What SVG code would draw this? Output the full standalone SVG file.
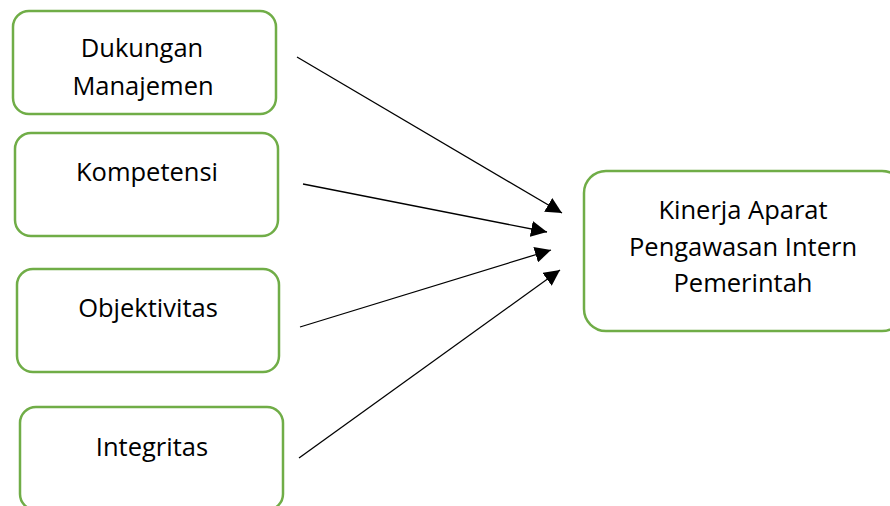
<svg xmlns="http://www.w3.org/2000/svg" width="890" height="506" viewBox="0 0 890 506">
<defs>
<style>
.box{fill:#fff;stroke:#70ad47;stroke-width:2.5}
.t{font-family:"Open Sans","Noto Sans","Liberation Sans",sans-serif;font-size:25.5px;fill:#000;text-anchor:middle}
.c{stroke:#000;stroke-width:1.3;fill:none}
</style>
<marker id="ah" viewBox="0 0 10 10" refX="10" refY="5" markerWidth="16" markerHeight="16" markerUnits="userSpaceOnUse" orient="auto">
<path d="M0,0 L10,5 L0,10 z" fill="#000"/>
</marker>
</defs>
<rect width="890" height="506" fill="#fff"/>
<g id="dukungan">
<rect class="box" x="13" y="11" width="263" height="103" rx="16"/>
<text class="t" x="142" y="57">Dukungan</text>
<text class="t" x="143" y="95">Manajemen</text>
</g>
<g id="kompetensi">
<rect class="box" x="15" y="133" width="263" height="103" rx="16"/>
<text class="t" x="147" y="181">Kompetensi</text>
</g>
<g id="objektivitas">
<rect class="box" x="17" y="269" width="262" height="103" rx="16"/>
<text class="t" x="148" y="317">Objektivitas</text>
</g>
<g id="integritas">
<rect class="box" x="20" y="407" width="263" height="103" rx="16"/>
<text class="t" x="152" y="456">Integritas</text>
</g>
<g id="kinerja">
<rect class="box" x="584" y="171" width="320" height="160" rx="22"/>
<text class="t" x="743" y="219">Kinerja Aparat</text>
<text class="t" x="743" y="256">Pengawasan Intern</text>
<text class="t" x="743" y="292">Pemerintah</text>
</g>
<g id="connectors">
<line class="c" x1="297" y1="57" x2="562" y2="213" marker-end="url(#ah)"/>
<line class="c" x1="303" y1="184" x2="547" y2="232" marker-end="url(#ah)"/>
<line class="c" x1="300" y1="327" x2="551" y2="250" marker-end="url(#ah)"/>
<line class="c" x1="299" y1="458" x2="560" y2="270" marker-end="url(#ah)"/>
</g>
</svg>
